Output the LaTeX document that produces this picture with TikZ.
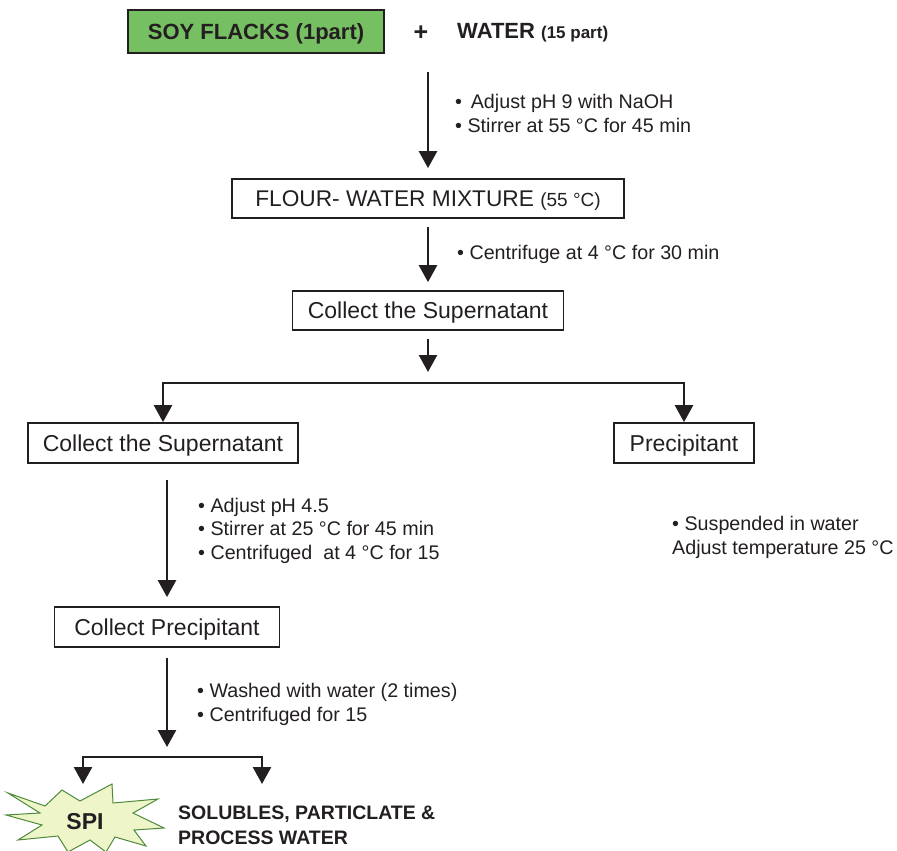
\documentclass[tikz,border=0pt]{standalone}
\usepackage{fontspec}
\setmainfont{Liberation Sans}
\usetikzlibrary{arrows.meta,calc}
\definecolor{boxgreen}{HTML}{77BF63}
\definecolor{starfill}{HTML}{EEF5C8}
\definecolor{stardraw}{HTML}{4E8A3A}
\definecolor{ink}{HTML}{231F20}
\tikzset{
  stepbox/.style={draw=ink, line width=1.7pt, inner sep=0pt, text=ink,
    text height=16.3pt, text depth=0pt,
    font=\fontsize{23}{27}\selectfont},
  note/.style={inner sep=0pt, anchor=west, align=left, text=ink,
    font=\fontsize{19.7}{24}\selectfont},
  arr/.style={draw=ink, line width=2.5pt, -{Triangle[width=18pt,length=17pt]}},
}
\begin{document}
\begin{tikzpicture}[x=1pt,y=-1pt]
\useasboundingbox (0,0) rectangle (897,851);
% boxes
\node[stepbox, fill=boxgreen, minimum width=256pt, minimum height=43pt, text height=15.8pt,
  font=\fontsize{22}{26}\selectfont\bfseries] (soy) at (256,31.5) {SOY FLACKS (1part)};
\node[inner sep=0pt, text=ink, font=\fontsize{25}{28}\selectfont\bfseries] (plus) at (421,33) {+};
\node[inner sep=0pt, anchor=west, text=ink, font=\fontsize{22}{26}\selectfont\bfseries] (water) at (457,33)
  {WATER {\fontsize{17}{20}\selectfont (15 part)}};
\node[stepbox, minimum width=392pt, minimum height=39pt, font=\fontsize{22.7}{27}\selectfont] (flour) at (428,198.5)
  {FLOUR- WATER MIXTURE {\fontsize{19}{22}\selectfont(55 °C)}};
\node[stepbox, minimum width=271pt, minimum height=39pt] (sup1) at (428,310.5) {Collect the Supernatant};
\node[stepbox, minimum width=270pt, minimum height=40pt] (sup2) at (163,443) {Collect the Supernatant};
\node[stepbox, minimum width=140pt, minimum height=40pt] (prec) at (684,443) {Precipitant};
\node[stepbox, minimum width=225pt, minimum height=40pt] (cprec) at (167,627) {Collect Precipitant};
% notes
\node[note] (n1) at (455,113) {•\ \,Adjust pH 9 with NaOH\\• Stirrer at 55 °C for 45 min};
\node[note] (n2) at (457,254) {• Centrifuge at 4 °C for 30 min};
\node[note, font=\fontsize{19.7}{23.5}\selectfont] (n3) at (198,530.5)
  {• Adjust pH 4.5\\• Stirrer at 25 °C for 45 min\\• Centrifuged \ at 4 °C for 15};
\node[note] (n4) at (672,537) {• Suspended in water\\Adjust temperature 25 °C};
\node[note] (n5) at (197,704) {• Washed with water (2 times)\\• Centrifuged for 15};
\node[note, font=\fontsize{19.5}{25}\selectfont\bfseries] (sol) at (178,825.5)
  {SOLUBLES, PARTICLATE \&\\PROCESS WATER};
% starburst
\filldraw[fill=starfill, draw=stardraw, line width=1pt, line join=miter]
  (8,793) -- (45,806) -- (62,790) -- (80,801) -- (112,784) -- (113,803) -- (158,799)
  -- (133,813) -- (164,828) -- (134,830) -- (146,846) -- (115,837) -- (106,852)
  -- (90,840) -- (68,852) -- (58,836) -- (18,840) -- (42,825) -- (6,815) -- (40,813) -- cycle;
\node[inner sep=0pt, text=ink, font=\fontsize{23}{26}\selectfont\bfseries] (spi) at (85,822) {SPI};
% coordinates
\coordinate (a1s) at (428,72);
\coordinate (hl) at (428,383);
\coordinate (hl2) at (167,757);
\coordinate (spiin) at (83,784);
\coordinate (solin) at (262,784);
% connectors
\draw[arr, shorten >=10pt] (a1s) -- (flour.north);
\draw[arr, shorten <=8pt, shorten >=8pt] (flour.south) -- (sup1.north);
\draw[arr, shorten <=8pt, shorten >=11pt] (sup1.south) -- (hl);
\draw[arr] (hl) -| (sup2.north);
\draw[arr] (hl) -| (prec.north);
\draw[arr, shorten <=16pt, shorten >=9pt] (sup2.south -| cprec.north) -- (cprec.north);
\draw[arr, shorten <=10pt, shorten >=10pt] (cprec.south) -- (hl2);
\draw[arr] (hl2) -| (spiin);
\draw[arr] (hl2) -| (solin);
\end{tikzpicture}
\end{document}
